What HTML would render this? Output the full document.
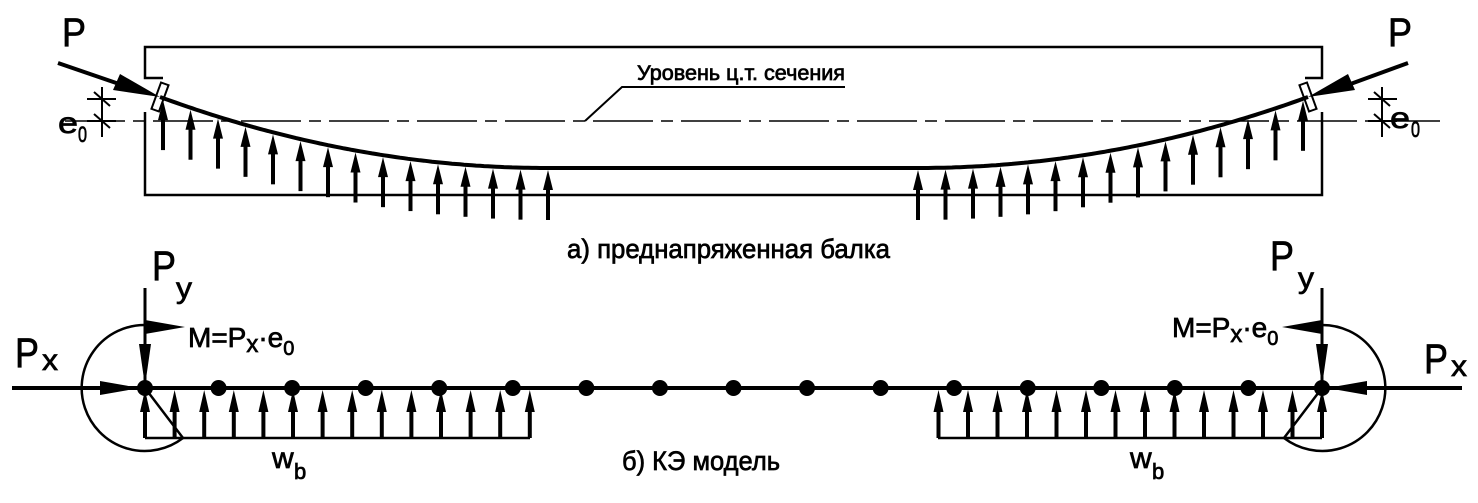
<!DOCTYPE html>
<html><head><meta charset="utf-8"><style>
html,body{margin:0;padding:0;background:#fff;}
svg{display:block;}
text{font-family:"Liberation Sans Narrow","Liberation Sans",sans-serif;fill:#000;stroke:#000;stroke-width:0.7;}
</style></head><body>
<svg id="s" width="1478" height="503" viewBox="0 0 1478 503" xmlns="http://www.w3.org/2000/svg">
<g fill="none" stroke="#000" stroke-width="2.5">
<path d="M145,112 L145,195 L1322,195 L1322,112 M1305,78 L1322,78 L1322,47 L145,47 L145,78 L163,78"/>
<line x1="65" y1="121" x2="1440" y2="121" stroke-width="1.5" stroke-dasharray="60,8,12,8"/>
<polyline points="585,121 622,87 845,87" stroke-width="2"/>
<path id="tendon" stroke-width="4" d=""/>
<rect x="-4" y="-14" width="8" height="28" transform="translate(160,97) rotate(20)" stroke-width="2"/>
<rect x="-4" y="-14" width="8" height="28" transform="translate(1308,97) rotate(-20)" stroke-width="2"/>
<line x1="58" y1="63" x2="125" y2="86" stroke-width="4"/>
<line x1="1408" y1="63" x2="1345" y2="86" stroke-width="4"/>
<path d="M102,87 L102,137 M87,99 L116,99 M87,121 L116,121 M94,92 L110,106 M94,114 L110,128" stroke-width="2"/>
<path d="M1382,87 L1382,137 M1368,99 L1397,99 M1368,121 L1397,121 M1374,92 L1390,106 M1374,114 L1390,128" stroke-width="2"/>
<line x1="12" y1="388" x2="1462" y2="388" stroke-width="4"/>
<line x1="145" y1="438" x2="530" y2="438" stroke-width="2.5"/>
<line x1="938" y1="438" x2="1322" y2="438" stroke-width="2.5"/>
<line x1="145" y1="288" x2="145" y2="388" stroke-width="3"/>
<line x1="1322" y1="288" x2="1322" y2="388" stroke-width="3"/>
<path d="M145,325 A63,63 0 1 0 183,438 L145,388" stroke-width="2.5"/>
<path d="M1322,325 A63,63 0 1 1 1284,438 L1322,388" stroke-width="2.5"/>
</g>
<g fill="#000" stroke="none">
<polygon points="160,97 113,90 120,74"/>
<polygon points="1308,97 1355,90 1348,74"/>
<polygon points="185,327 145,320 145,334"/>
<polygon points="1282,327 1322,320 1322,334"/>
<polygon points="145,386 139,344 151,344"/>
<polygon points="1322,386 1316,344 1328,344"/>
<polygon points="140,388 100,381 100,395"/>
<polygon points="1327,388 1367,381 1367,395"/>
</g>
<g font-size="40"><text x="62" y="46" textLength="24" lengthAdjust="spacingAndGlyphs">P</text><text x="1388" y="46" textLength="24" lengthAdjust="spacingAndGlyphs">P</text></g>
<g font-size="30"><text x="58" y="133" textLength="20" lengthAdjust="spacingAndGlyphs">e</text><text x="1390" y="128" textLength="20" lengthAdjust="spacingAndGlyphs">e</text></g>
<g font-size="22"><text x="78" y="142" textLength="9" lengthAdjust="spacingAndGlyphs">0</text><text x="1411" y="137" textLength="9" lengthAdjust="spacingAndGlyphs">0</text></g>
<text x="637" y="80" font-size="21" textLength="208" lengthAdjust="spacingAndGlyphs">Уровень ц.т. сечения</text>
<text x="567" y="258" font-size="27" textLength="323" lengthAdjust="spacingAndGlyphs">а) преднапряженная балка</text>
<text x="622" y="470" font-size="27" textLength="158" lengthAdjust="spacingAndGlyphs">б) КЭ модель</text>
<g font-size="42"><text x="152" y="280" textLength="24" lengthAdjust="spacingAndGlyphs">P</text><text x="1270" y="270" textLength="24" lengthAdjust="spacingAndGlyphs">P</text><text x="15" y="367" textLength="24" lengthAdjust="spacingAndGlyphs">P</text><text x="1424" y="373" textLength="24" lengthAdjust="spacingAndGlyphs">P</text></g>
<g font-size="30"><text x="176" y="298" textLength="16" lengthAdjust="spacingAndGlyphs">y</text><text x="1298" y="288" textLength="16" lengthAdjust="spacingAndGlyphs">y</text><text x="42" y="370" textLength="16" lengthAdjust="spacingAndGlyphs">x</text><text x="1451" y="376" textLength="16" lengthAdjust="spacingAndGlyphs">x</text></g>
<text x="188" y="347" font-size="28">M=P<tspan font-size="24" dy="5">x</tspan><tspan dy="-5">·e</tspan><tspan font-size="20" dy="8">0</tspan></text>
<text x="1172" y="337" font-size="28">M=P<tspan font-size="24" dy="5">x</tspan><tspan dy="-5">·e</tspan><tspan font-size="20" dy="8">0</tspan></text>
<g font-size="30"><text x="272" y="468">w</text><text x="1130" y="468">w</text></g>
<g font-size="22"><text x="294" y="479">b</text><text x="1152" y="479">b</text></g>
</svg>
<script>
var s=document.getElementById('s'),NS='http://www.w3.org/2000/svg';
function el(t,a){var e=document.createElementNS(NS,t);for(var k in a)e.setAttribute(k,a[k]);s.appendChild(e);return e;}
function cy(x){if(x<=548)return 168-71*Math.pow(Math.max(0,548-x)/388,2);if(x>=918)return 168-71*Math.pow(Math.max(0,x-918)/390,2);return 168;}
var d='M160,97';for(var x=160;x<=1308;x+=4)d+=' L'+x+','+cy(x).toFixed(1);
document.getElementById('tendon').setAttribute('d',d);
function up(x,top,bot,len){el('line',{x1:x,y1:top+10,x2:x,y2:bot,stroke:'#000','stroke-width':4});el('polygon',{points:x+','+top+' '+(x-5)+','+(top+len)+' '+(x+5)+','+(top+len),fill:'#000'});}
for(var i=0;i<15;i++){var x=163+i*27.5;var t=cy(x)+2;up(x,t,t+50,20);}
for(var i=0;i<15;i++){var x=918+i*27.5;var t=cy(x)+2;up(x,t,t+50,20);}
for(var i=0;i<14;i++){up(145+i*29.6,390,438,22);up(938.5+i*29.5,390,438,22);}
for(var i=0;i<17;i++){el('circle',{cx:145+i*73.56,cy:388,r:8,fill:'#000'});}
</script>
</body></html>
